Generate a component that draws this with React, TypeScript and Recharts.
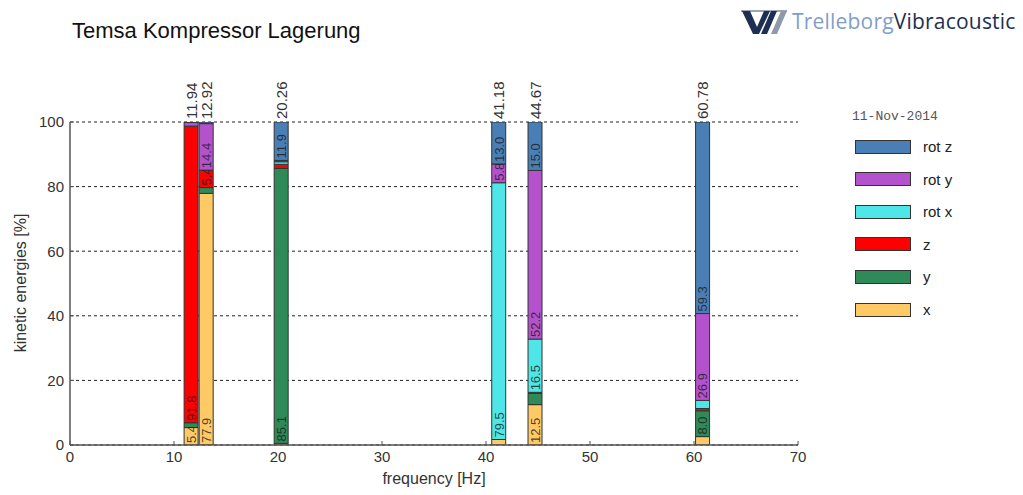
import React from "react";
import { BarChart, Bar, XAxis, YAxis, CartesianGrid, LabelList, Label } from "recharts";

// Eigenfrequencies of the mounting modes [Hz]
const freqs = [11.94, 12.92, 20.26, 41.18, 44.67, 60.78];
// Where each bar is placed on the frequency axis (the two close modes sit side by side)
const barPos = [11.6, 13.05, 20.26, 41.18, 44.67, 60.78];

// Kinetic energy share per direction [%]
const xEnergy = [5.4, 77.9, 0.5, 1.7, 12.5, 2.6];
const yEnergy = [1.5, 1.8, 85.1, 0, 3.5, 8.0];
const zEnergy = [91.8, 5.4, 1.3, 0, 0.3, 0.7];
const rotXEnergy = [0, 0, 0.8, 79.5, 16.5, 2.5];
const rotYEnergy = [1.2, 14.4, 0.4, 5.8, 52.2, 26.9];
const rotZEnergy = [0.1, 0.5, 11.9, 13.0, 15.0, 59.3];

const xTicks = [0, 10, 20, 30, 40, 50, 60, 70];
const yTicks = [0, 20, 40, 60, 80, 100];
const dateText = "11-Nov-2014";

type Series = { key: string; name: string; color: string; values: number[] };

// stacking order, bottom to top
const series: Series[] = [
  { key: "x", name: "x", color: "#ffc966", values: xEnergy },
  { key: "y", name: "y", color: "#2e8b57", values: yEnergy },
  { key: "z", name: "z", color: "#ff0000", values: zEnergy },
  { key: "rotx", name: "rot x", color: "#4ee6e6", values: rotXEnergy },
  { key: "roty", name: "rot y", color: "#b452cd", values: rotYEnergy },
  { key: "rotz", name: "rot z", color: "#4a7fb5", values: rotZEnergy },
];

const data = freqs.map((f, i) => {
  const row: Record<string, number> = { pos: barPos[i], freq: f };
  series.forEach((s) => {
    row[s.key] = s.values[i];
  });
  return row;
});

const FONT = "'Liberation Sans', Arial, sans-serif";
const LABEL_MIN = 5;

// value written inside a segment, rotated, clipped to the segment
const makeSegmentLabel = (key: string) => (props: any) => {
  const vb = props.viewBox || props;
  const x = Number(vb.x ?? props.x);
  const y = Number(vb.y ?? props.y);
  const w = Number(vb.width ?? props.width);
  const h = Number(vb.height ?? props.height);
  const v = Number(props.value);
  if (!isFinite(v) || v < LABEL_MIN || !isFinite(x)) return null;
  const id = `clip-${key}-${props.index}`;
  const cx = x + w / 2;
  const by = y + h - 2;
  return (
    <g>
      <defs>
        <clipPath id={id}>
          <rect x={x} y={y} width={w} height={h} />
        </clipPath>
      </defs>
      <g clipPath={`url(#${id})`}>
        <text
          x={cx + 4.8}
          y={by}
          transform={`rotate(-90 ${cx + 4.8} ${by})`}
          textAnchor="start"
          fontSize={13}
          fontFamily={FONT}
          fill="#1a1a1a"
          fillOpacity={0.8}
        >
          {v.toFixed(1)}
        </text>
      </g>
    </g>
  );
};

// frequency written above each bar
const FreqLabel = (props: any) => {
  const vb = props.viewBox || props;
  const x = Number(vb.x ?? props.x);
  const y = Number(vb.y ?? props.y);
  const w = Number(vb.width ?? props.width);
  const idx = props.index;
  if (!isFinite(x)) return null;
  const cx = x + w / 2 + 5.5;
  const ty = y - 3;
  return (
    <text
      x={cx}
      y={ty}
      transform={`rotate(-90 ${cx} ${ty})`}
      textAnchor="start"
      fontSize={15}
      fontFamily={FONT}
      fill="#333"
    >
      {freqs[idx].toFixed(2)}
    </text>
  );
};

const YTitle = () => (
  <text
    x={20}
    y={283}
    transform="rotate(-90 20 283)"
    textAnchor="middle"
    dominantBaseline="central"
    fontSize={16}
    fontFamily={FONT}
    fill="#333"
  >
    kinetic energies [%]
  </text>
);

const Logo = () => (
  <div style={{ position: "absolute", left: 740, top: 6, height: 30, display: "flex", alignItems: "center" }}>
    <svg width={52} height={28} viewBox="0 0 52 28">
      <rect x={1} y={3} width={46} height={2} fill="#9aa7b8" />
      <polygon points="2,4 10,4 17,20 24,4 30,4 19,27 13,27" fill="#1d2f52" />
      <polygon points="31,4 37,4 27,27 21,27" fill="#1d2f52" />
      <polygon points="41,4 47,4 37,27 31,27" fill="#8f9aa8" />
    </svg>
    <span style={{ fontFamily: "'Open Sans', sans-serif", fontSize: 21, color: "#7f9fc8", letterSpacing: 0.2 }}>
      Trelleborg
    </span>
    <span style={{ fontFamily: "'Open Sans', sans-serif", fontSize: 21, color: "#1d2f52", letterSpacing: 0.2 }}>
      Vibracoustic
    </span>
  </div>
);

const LegendBox = () => (
  <div style={{ position: "absolute", left: 852, top: 108, width: 160 }}>
    <div style={{ fontFamily: "'Liberation Mono', monospace", fontSize: 13, color: "#555", height: 18, lineHeight: "18px" }}>
      {dateText}
    </div>
    {[...series].reverse().map((s, i) => (
      <div
        key={s.key}
        style={{
          position: "absolute",
          left: 3,
          top: 32 + i * 32.6,
          display: "flex",
          alignItems: "center",
          height: 13,
          whiteSpace: "nowrap",
        }}
      >
        <div style={{ width: 54, height: 12, background: s.color, border: "1.5px solid #333", boxSizing: "content-box", flex: "none" }} />
        <span style={{ marginLeft: 12, fontFamily: FONT, fontSize: 15, color: "#222" }}>{s.name}</span>
      </div>
    ))}
  </div>
);

export default function App() {
  return (
    <div style={{ position: "absolute", left: 0, top: 0, width: 1023, height: 495, background: "#fff", overflow: "hidden" }}>
      <div style={{ position: "absolute", left: 72, top: 18, fontFamily: FONT, fontSize: 22, color: "#111" }}>
        Temsa Kompressor Lagerung
      </div>
      <Logo />
      <div style={{ position: "absolute", left: 0, top: 0 }}>
        <BarChart width={1023} height={495} data={data} margin={{ top: 122, right: 225, bottom: 20, left: 30 }}>
          <CartesianGrid vertical={false} stroke="#222" strokeDasharray="3 3" />
          <XAxis
            type="number"
            dataKey="pos"
            domain={[0, 70]}
            ticks={xTicks}
            allowDataOverflow
            height={30}
            tickSize={-4}
            tickMargin={10}
            tickLine={{ stroke: "#555" }}
            axisLine={{ stroke: "#555", strokeWidth: 1.5 }}
            tick={{ fill: "#333", fontSize: 15, fontFamily: FONT }}
          >
            <Label value="frequency [Hz]" position="bottom" offset={-2} fill="#333" fontSize={16} fontFamily={FONT} />
          </XAxis>
          <YAxis
            type="number"
            domain={[0, 100]}
            ticks={yTicks}
            allowDataOverflow
            width={40}
            tickSize={-4}
            tickMargin={10}
            tickLine={{ stroke: "#555" }}
            axisLine={{ stroke: "#555", strokeWidth: 1.5 }}
            tick={{ fill: "#333", fontSize: 15, fontFamily: FONT }}
          >
            <Label content={<YTitle />} />
          </YAxis>
          {series.map((s, si) => (
            <Bar
              key={s.key}
              dataKey={s.key}
              name={s.name}
              stackId="e"
              fill={s.color}
              stroke="#333"
              strokeWidth={1}
              barSize={14}
              isAnimationActive={false}
            >
              <LabelList dataKey={s.key} content={makeSegmentLabel(s.key)} />
              {si === series.length - 1 ? <LabelList dataKey="freq" content={FreqLabel} /> : null}
            </Bar>
          ))}
        </BarChart>
      </div>
      <LegendBox />
    </div>
  );
}
